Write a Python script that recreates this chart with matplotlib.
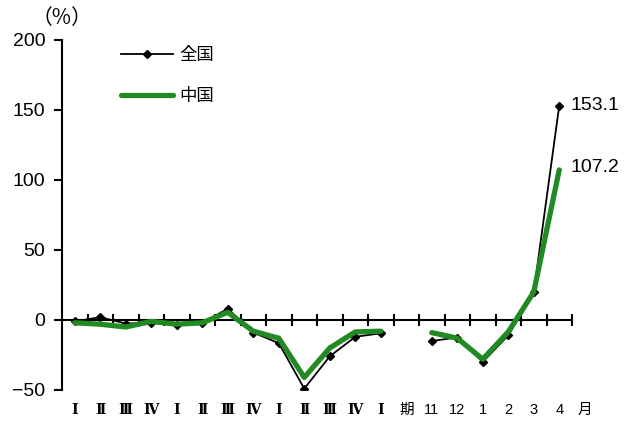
import numpy as np
import matplotlib.pyplot as plt
import matplotlib.transforms as mtransforms
from matplotlib.lines import Line2D

plt.rcParams['font.family'] = ['Liberation Sans', 'Noto Sans CJK JP', 'DejaVu Sans']

# data (None = gap)
labels = ['Ⅰ', 'Ⅱ', 'Ⅲ', 'Ⅳ', 'Ⅰ', 'Ⅱ', 'Ⅲ', 'Ⅳ', 'Ⅰ', 'Ⅱ', 'Ⅲ', 'Ⅳ', 'Ⅰ', '期',
          '11', '12', '1', '2', '3', '4', '月']
sub_labels = {14: '20', 16: '21'}
zenkoku = [-1, 2, -2.5, -2, -3.5, -2, 8, -9, -16.5, -49, -26, -12, -9.5, None,
           -15, -12.5, -30, -11, 20, 153.1]
chugoku = [-2, -3, -5, -1, -3, -2, 5.5, -8, -13, -41, -20, -8.5, -8, None,
           -9, -13, -28, -8.5, 20, 107.2]

x = np.arange(len(zenkoku))
y1 = np.array([np.nan if v is None else v for v in zenkoku], dtype=float)
y2 = np.array([np.nan if v is None else v for v in chugoku], dtype=float)

green = '#228a22'

fig = plt.figure(figsize=(6.34, 4.21), dpi=100)
ax = fig.add_axes([62 / 634, 31 / 421, 510 / 634, 350 / 421])

ax.plot(x, y1, color='black', lw=1.3, marker='D', ms=4, label='全国', zorder=2)
ax.plot(x, y2, color=green, lw=3.8, solid_capstyle='round', label='中国', zorder=3)

ax.set_xlim(-0.5, 19.5)
ax.set_ylim(-50, 200)
ax.set_yticks([-50, 0, 50, 100, 150, 200])
ax.set_yticklabels(['−50', '0', '50', '100', '150', '200'])
ax.set_xticks(np.arange(0.5, 20, 1))
ax.tick_params(axis='x', direction='inout', length=8, width=1.5, labelbottom=False)
ax.tick_params(axis='y', direction='out', length=6, width=1.5, labelsize=14, pad=6)

ax.spines['top'].set_visible(False)
ax.spines['right'].set_visible(False)
ax.spines['bottom'].set_position(('data', 0))
ax.spines['bottom'].set_linewidth(1.5)
ax.spines['left'].set_linewidth(1.5)

# category labels under the plot
trans = mtransforms.blended_transform_factory(ax.transData, ax.transAxes)
for i, lab in enumerate(labels):
    if lab in ('Ⅰ', 'Ⅱ', 'Ⅲ', 'Ⅳ'):
        ax.text(i, -0.057, lab, transform=trans, ha='center', va='center',
                fontsize=10, family='DejaVu Serif', fontweight='bold', clip_on=False)
    else:
        ax.text(i, -0.057, lab, transform=trans, ha='center', va='center',
                fontsize=10.5, clip_on=False)
for i, lab in sub_labels.items():
    ax.text(i, -0.115, lab, transform=trans, ha='center', va='center',
            fontsize=10.5, clip_on=False)

# value labels at the end
ax.text(x[-1] + 0.45, y1[-1], '153.1', ha='left', va='center', fontsize=14)
ax.text(x[-1] + 0.45, y2[-1] + 2, '107.2', ha='left', va='center', fontsize=14)

ax.text(0.0, 1.063, '（%）', transform=ax.transAxes, ha='center', va='center',
        fontsize=15, family=['Noto Sans CJK JP', 'DejaVu Sans'])

handles = [Line2D([], [], color='black', lw=1.3, marker='D', ms=4),
           Line2D([], [], color=green, lw=3.8, solid_capstyle='round')]
ax.legend(handles, ['全国', '中国'], loc='upper left', bbox_to_anchor=(0.085, 1.025),
          frameon=False, fontsize=12.5, handlelength=3.0, handletextpad=0.35,
          labelspacing=1.45)

fig.savefig('out.png', dpi=100)
